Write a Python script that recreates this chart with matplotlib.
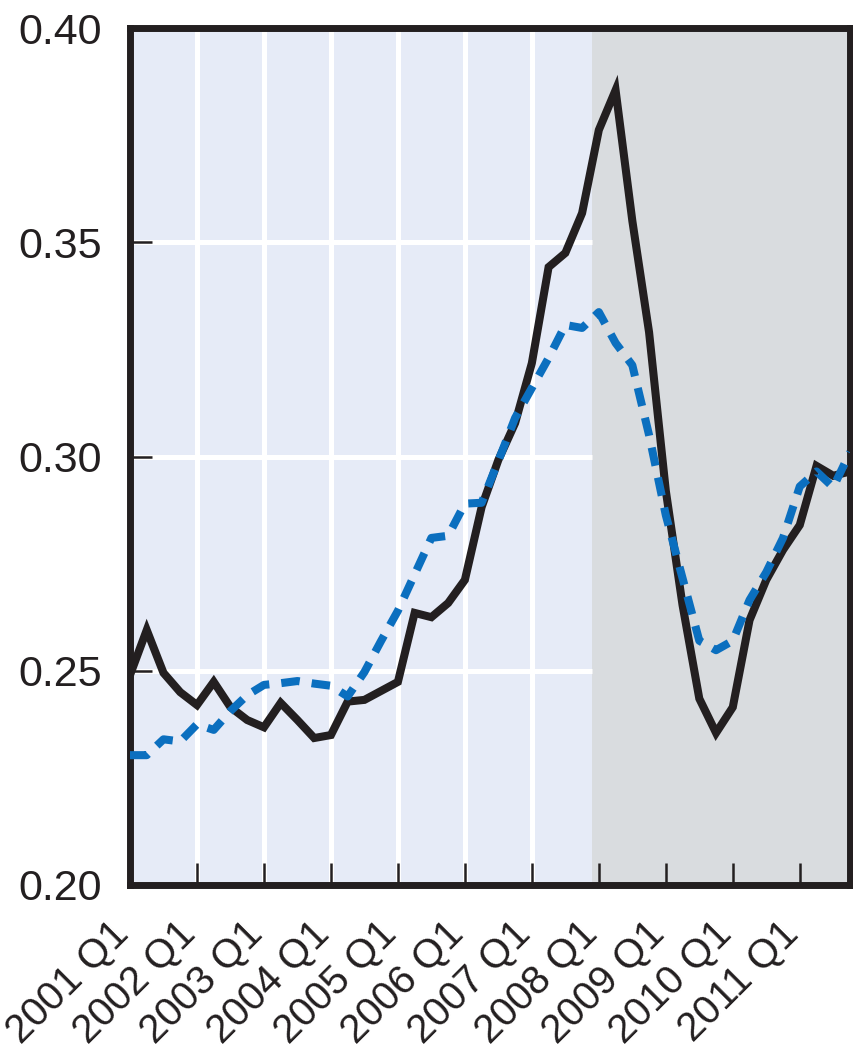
import numpy as np
import matplotlib
matplotlib.use("Agg")
import matplotlib.pyplot as plt

plt.rcParams['font.family'] = ['Liberation Sans', 'DejaVu Sans']

# quarterly data, 2001 Q1 .. 2011 Q4
years = list(range(2001, 2012))
tick_labels = [f"{y} Q1" for y in years]

solid_line = [0.249, 0.2595, 0.2495, 0.245, 0.242, 0.2474, 0.2415, 0.2385,
              0.2368, 0.2425, 0.2385, 0.2343, 0.235, 0.2428, 0.2432, 0.2453,
              0.2474, 0.2635, 0.2625, 0.2658, 0.2712, 0.2882, 0.2992, 0.3078,
              0.3218, 0.3442, 0.3475, 0.3568, 0.3762, 0.3855, 0.355, 0.329,
              0.292, 0.2653, 0.2435, 0.2355, 0.2415, 0.2618, 0.2712, 0.2782,
              0.284, 0.2978, 0.2955, 0.2965]

dashed_line = [0.2303, 0.2303, 0.234, 0.2335, 0.2375, 0.2362, 0.2406, 0.2443,
               0.2467, 0.2471, 0.2476, 0.2470, 0.2465, 0.2440, 0.2497, 0.2570,
               0.2640, 0.2725, 0.2810, 0.2815, 0.2890, 0.2892, 0.2990, 0.3090,
               0.3160, 0.3230, 0.3307, 0.3300, 0.3337, 0.3265, 0.3213, 0.3050,
               0.2863, 0.2716, 0.2570, 0.2548, 0.2570, 0.2665, 0.2730, 0.2810,
               0.2930, 0.2965, 0.2928, 0.3010]

yticks = [0.20, 0.25, 0.30, 0.35, 0.40]
shade_start = 27.6  # forecast period shading starts just before 2008 Q1

x = np.arange(len(solid_line))
year_pos = np.arange(len(years)) * 4

fig = plt.figure(figsize=(8.54, 10.57), dpi=100)
ax = fig.add_axes([130 / 854, 1 - 885 / 1057, 720 / 854, 857 / 1057])

ax.set_xlim(0, 43)
ax.set_ylim(0.20, 0.40)

# backgrounds
ax.axvspan(0, shade_start, color='#e6ebf7', zorder=0, lw=0)
ax.axvspan(shade_start, 43, color='#d9dcdf', zorder=0, lw=0)

# white grid only in the historical part
for xp in year_pos:
    if 0 < xp < shade_start:
        ax.vlines(xp, 0.20, 0.40, color='white', lw=3.6, zorder=1)
for yv in yticks[1:-1]:
    ax.hlines(yv, 0, shade_start, color='white', lw=3.6, zorder=1)

ax.plot(x, solid_line, color='#231f20', lw=5.8, solid_joinstyle='miter', zorder=3)
ax.plot(x, dashed_line, color='#0b6fbf', lw=5.8, dashes=(2.3, 1.5),
        dash_capstyle='butt', zorder=4)

for s in ax.spines.values():
    s.set_linewidth(5)
    s.set_color('#231f20')

ax.set_yticks(yticks)
ax.set_yticklabels([f"{v:.2f}" for v in yticks])
ax.tick_params(axis='y', direction='in', length=16, width=1.8, pad=20,
               labelsize=31, colors='#231f20')

ax.set_xticks(year_pos)
ax.set_xticklabels(tick_labels, rotation=45, ha='right', va='baseline',
                   rotation_mode='anchor')
ax.tick_params(axis='x', direction='in', length=16, width=1.8, pad=36,
               labelsize=29, colors='#231f20')

fig.savefig("out.png", dpi=100)
